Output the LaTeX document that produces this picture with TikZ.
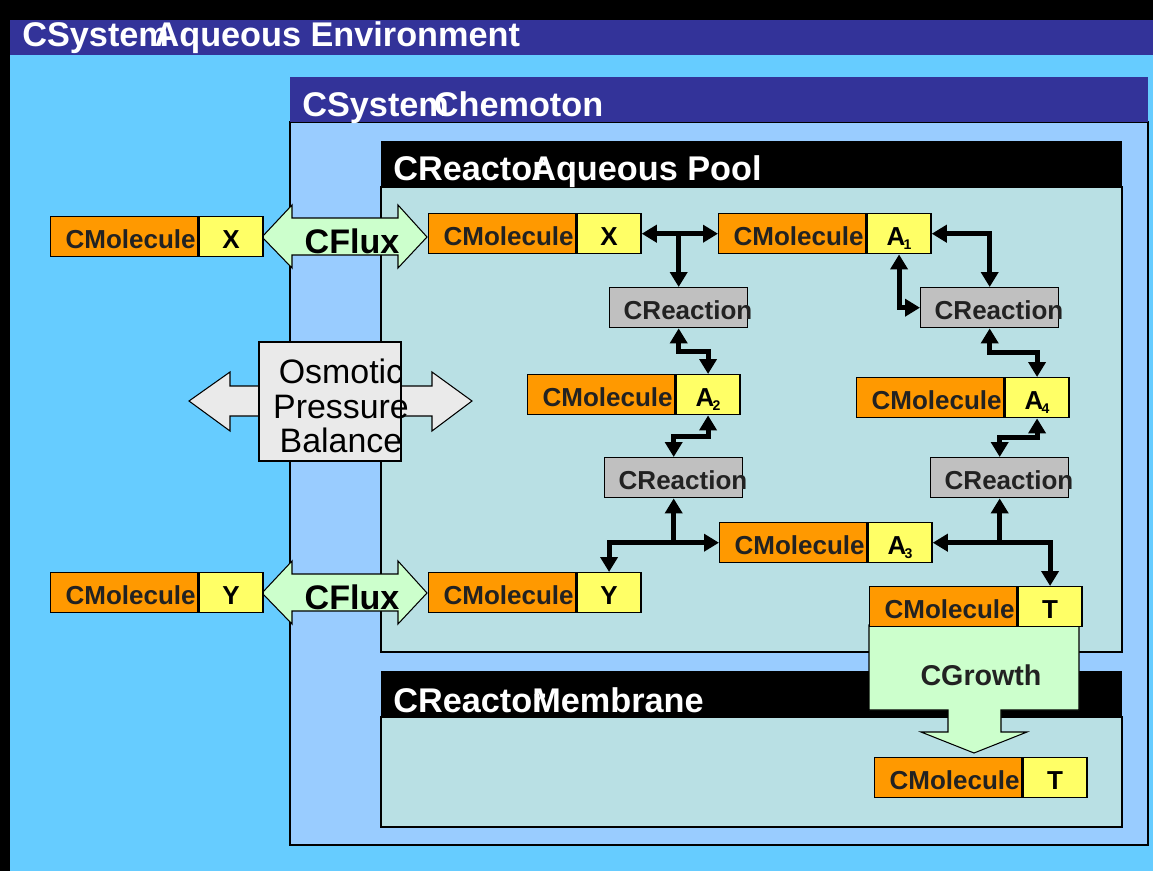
\documentclass[tikz,border=0pt]{standalone}
\usepackage{fontspec}
\setmainfont{Liberation Sans}
\usetikzlibrary{positioning,calc,arrows.meta}

\definecolor{umwelt}{RGB}{102,204,255}
\definecolor{titelblau}{RGB}{51,51,153}
\definecolor{zellblau}{RGB}{153,204,255}
\definecolor{reaktor}{RGB}{185,224,228}
\definecolor{molorange}{RGB}{255,153,0}
\definecolor{molgelb}{RGB}{255,255,102}
\definecolor{reakgrau}{RGB}{192,192,192}
\definecolor{flussgruen}{RGB}{204,255,204}
\definecolor{osmograu}{RGB}{234,234,234}
\definecolor{schrift}{RGB}{34,34,34}
\def\s{0.02}
\def\punkt#1#2{({(#1)*\s},{-(#2)*\s})}
\newcommand\molfont{\fontsize{14.8}{17}\selectfont\bfseries}
\newcommand\titelfont{\fontsize{19.5}{23}\selectfont\bfseries}
\newcommand\flussfont{\fontsize{19.4}{23}\selectfont\bfseries}
\newcommand\wachsfont{\fontsize{16.3}{19}\selectfont\bfseries}
\newcommand\osmofont{\fontsize{19.3}{19.6}\selectfont}
\newcommand\tief[1]{\kern-0.07em\raisebox{-2.4pt}{\fontsize{8}{8}\selectfont #1}}

\begin{document}
\begin{tikzpicture}[>={Triangle[length=0.3cm,width=0.34cm]},
  molbox/.style={draw=black,line width=0.8pt,fill=molorange,anchor=north west,
    minimum width=2.94cm,minimum height=0.8cm,inner xsep=1pt,inner ysep=0pt,
    text width=2.86cm,text height=0.47cm,text depth=0pt,align=right,text=schrift,font=\molfont},
  wertbox/.style={draw=black,line width=0.8pt,fill=molgelb,minimum width=1.28cm,
    minimum height=0.8cm,inner sep=0pt,text height=0.47cm,text depth=0pt,text=black,font=\molfont},
  reakbox/.style={draw=black,line width=0.8pt,fill=reakgrau,anchor=north west,
    minimum width=2.76cm,minimum height=0.8cm,inner xsep=0.28cm,inner ysep=0pt,
    text width=2.2cm,text height=0.49cm,text depth=0pt,align=left,text=schrift,font=\molfont},
  titel/.style={anchor=base west,inner sep=0pt,text=white,font=\titelfont},
  verb/.style={line width=2.8pt},
  knick/.style={to path={|- ($(\tikztostart)!.5!(\tikztotarget)$) -| (\tikztotarget)}}]
\useasboundingbox \punkt{0}{0} rectangle \punkt{1153}{871};
% Umgebung
\fill[black] \punkt{0}{0} rectangle \punkt{1153}{871};
\fill[umwelt] \punkt{10}{55} rectangle \punkt{1153}{871};
\fill[titelblau] \punkt{10}{20} rectangle \punkt{1153}{55};
\node[titel] (tumwelt) at \punkt{22}{47} {CSystem\kern-0.42em Aqueous Environment};
% Chemoton
\filldraw[fill=zellblau,draw=black,line width=0.6pt] \punkt{290}{122} rectangle \punkt{1148}{845};
\fill[titelblau] \punkt{290}{77} rectangle \punkt{1148}{122};
\node[titel] (tchemo) at \punkt{302}{116} {CSystem\kern-0.44em Chemoton};
% Reaktoren
\filldraw[fill=reaktor,draw=black,line width=0.6pt] \punkt{381}{187} rectangle \punkt{1122}{652};
\fill[black] \punkt{381}{141} rectangle \punkt{1122}{187};
\node[titel] (tpool) at \punkt{393}{181} {CReactor\kern-0.42em Aqueous Pool};
\filldraw[fill=reaktor,draw=black,line width=0.6pt] \punkt{381}{717} rectangle \punkt{1122}{827};
\fill[black] \punkt{381}{671} rectangle \punkt{1122}{717};
\node[titel] (tmemb) at \punkt{393}{712} {CReactor\kern-0.389em Membrane};
% Wachstum
\filldraw[fill=flussgruen,draw=black,line width=0.6pt] \punkt{869}{625} -- \punkt{1079}{625}
  -- \punkt{1079}{710} -- \punkt{1001}{710} -- \punkt{1001}{732} -- \punkt{1027}{732}
  -- \punkt{974}{753} -- \punkt{921}{732} -- \punkt{948}{732} -- \punkt{948}{710}
  -- \punkt{869}{710} -- cycle;
\node[anchor=base,font=\wachsfont,text=schrift] (wachs) at \punkt{981}{685} {CGrowth};
% Osmose
\filldraw[fill=osmograu,draw=black,line width=0.6pt] \punkt{189}{401} -- \punkt{230}{372}
  -- \punkt{230}{386} -- \punkt{432}{386} -- \punkt{432}{372} -- \punkt{472}{401}
  -- \punkt{432}{431} -- \punkt{432}{416} -- \punkt{230}{416} -- \punkt{230}{431} -- cycle;
\filldraw[fill=osmograu,draw=black,line width=0.6pt] \punkt{259}{342} rectangle \punkt{401}{461};
\node[font=\osmofont,align=center,inner sep=0pt] (osmo) at \punkt{341}{406} {Osmotic\\Pressure\\Balance};
% Fluss
\foreach \y/\n in {237/fx,593/fy}{
  \filldraw[fill=flussgruen,draw=black,line width=0.6pt] \punkt{262}{\y} -- \punkt{292}{\y-32}
    -- \punkt{292}{\y-19} -- \punkt{398}{\y-19} -- \punkt{398}{\y-32} -- \punkt{427}{\y}
    -- \punkt{398}{\y+31} -- \punkt{398}{\y+18} -- \punkt{292}{\y+18} -- \punkt{292}{\y+31} -- cycle;
  \node[anchor=base,font=\flussfont,inner sep=0pt] (\n) at \punkt{352}{\y+16} {CFlux};
}
% Molekuele
\node[molbox] (ux) at \punkt{50}{216} {CMolecule};
\node[wertbox,right=0pt of ux] (uxv) {X};
\node[molbox] (uy) at \punkt{50}{572} {CMolecule};
\node[wertbox,right=0pt of uy] (uyv) {Y};
\node[molbox] (px) at \punkt{428}{213} {CMolecule};
\node[wertbox,right=0pt of px] (pxv) {X};
\node[molbox] (a1) at \punkt{718}{213} {CMolecule};
\node[wertbox,right=0pt of a1] (a1v) {A\tief{1}};
\node[molbox] (a2) at \punkt{527}{374} {CMolecule};
\node[wertbox,right=0pt of a2] (a2v) {A\tief{2}};
\node[molbox] (a4) at \punkt{856}{377} {CMolecule};
\node[wertbox,right=0pt of a4] (a4v) {A\tief{4}};
\node[molbox] (a3) at \punkt{719}{522} {CMolecule};
\node[wertbox,right=0pt of a3] (a3v) {A\tief{3}};
\node[molbox] (py) at \punkt{428}{572} {CMolecule};
\node[wertbox,right=0pt of py] (pyv) {Y};
\node[molbox] (pt) at \punkt{869}{586} {CMolecule};
\node[wertbox,right=0pt of pt] (ptv) {T};
\node[molbox] (mt) at \punkt{874}{757} {CMolecule};
\node[wertbox,right=0pt of mt] (mtv) {T};
% Reaktionen
\node[reakbox] (r1) at \punkt{609}{287} {CReaction};
\node[reakbox] (r2) at \punkt{920}{287} {CReaction};
\node[reakbox] (r3) at \punkt{604}{457} {CReaction};
\node[reakbox] (r4) at \punkt{930}{457} {CReaction};
% Verbindungen
\draw[verb,<->] (pxv.east) -- (a1.west);
\draw[verb,->] (pxv.east -| r1.north) -- (r1.north);
\draw[verb,<->] (a1v.east) -| (r2.north);
\draw[verb,<->] (a1v.south) |- (r2.west);
\draw[verb,<->] (r1.south) to[knick] (a2v.north);
\draw[verb,<->] (a2v.south) to[knick] (r3.north);
\draw[verb,<->] (r2.south) to[knick] (a4v.north);
\draw[verb,<->] (a4v.south) to[knick] (r4.north);
\draw[verb,<->] (r3.south) |- (a3.west);
\draw[verb,->] (r3.south |- a3.west) -| (pyv.north);
\draw[verb,<->] (r4.south) |- (a3v.east);
\draw[verb,->] (r4.south |- a3v.east) -| (ptv.north);
\end{tikzpicture}
\end{document}
